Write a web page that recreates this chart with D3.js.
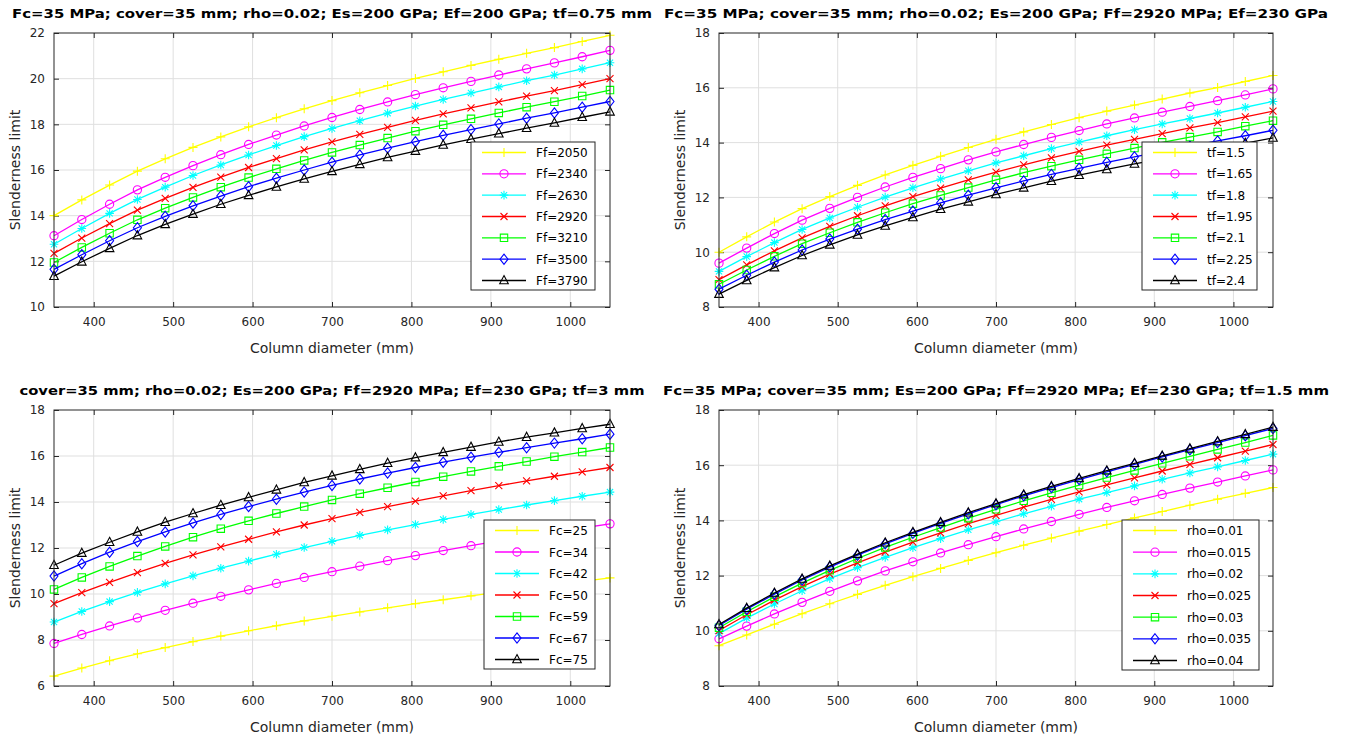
<!DOCTYPE html>
<html><head><meta charset="utf-8">
<script src="https://cdn.jsdelivr.net/npm/d3@7"></script>
<style>
body{margin:0;background:#fff}
svg{display:block}
text{font-family:"DejaVu Sans",sans-serif}
</style>
</head><body>
<svg id="chart" width="1345" height="739"></svg>
<script>
// ---- shared x categories ----
const diameters = [350,385,420,455,490,525,560,595,630,665,700,735,770,805,840,875,910,945,980,1015,1050];
const xTickValues = [400,500,600,700,800,900,1000];

// ---- Panel 1: Ff variation ----
const p1Labels = ["Ff=2050","Ff=2340","Ff=2630","Ff=2920","Ff=3210","Ff=3500","Ff=3790"];
const p1_Ff2050 = [14.00,14.69,15.34,15.95,16.49,16.99,17.45,17.89,18.29,18.68,19.04,19.38,19.70,20.01,20.30,20.58,20.85,21.11,21.36,21.63,21.90];
const p1_Ff2340 = [13.12,13.83,14.50,15.13,15.68,16.19,16.67,17.12,17.53,17.93,18.30,18.65,18.98,19.30,19.60,19.88,20.16,20.43,20.69,20.96,21.24];
const p1_Ff2630 = [12.75,13.44,14.10,14.71,15.25,15.76,16.22,16.66,17.07,17.46,17.82,18.16,18.49,18.80,19.09,19.37,19.64,19.91,20.16,20.43,20.70];
const p1_Ff2920 = [12.35,13.02,13.65,14.24,14.76,15.24,15.69,16.11,16.50,16.88,17.23,17.56,17.87,18.17,18.46,18.72,18.98,19.24,19.48,19.74,20.00];
const p1_Ff3210 = [11.95,12.61,13.23,13.82,14.33,14.80,15.25,15.67,16.05,16.42,16.77,17.09,17.40,17.70,17.98,18.24,18.50,18.75,18.99,19.24,19.50];
const p1_Ff3500 = [11.65,12.29,12.90,13.47,13.97,14.43,14.86,15.27,15.64,16.00,16.34,16.66,16.96,17.24,17.52,17.77,18.02,18.27,18.50,18.75,19.00];
const p1_Ff3790 = [11.35,11.98,12.57,13.13,13.62,14.07,14.50,14.89,15.26,15.61,15.94,16.25,16.55,16.83,17.10,17.35,17.59,17.83,18.06,18.31,18.55];
const p1YTicks = [10,12,14,16,18,20,22];

// ---- Panel 2: tf variation ----
const p2Labels = ["tf=1.5","tf=1.65","tf=1.8","tf=1.95","tf=2.1","tf=2.25","tf=2.4"];
const p2_tf150 = [10.00,10.56,11.10,11.59,12.03,12.44,12.82,13.17,13.50,13.82,14.12,14.39,14.66,14.91,15.15,15.37,15.59,15.81,16.01,16.23,16.45];
const p2_tf165 = [9.60,10.15,10.68,11.17,11.60,12.00,12.38,12.73,13.05,13.37,13.66,13.93,14.19,14.44,14.68,14.90,15.11,15.32,15.53,15.74,15.96];
const p2_tf180 = [9.30,9.84,10.35,10.83,11.25,11.64,12.01,12.35,12.67,12.97,13.26,13.52,13.78,14.02,14.25,14.47,14.68,14.88,15.08,15.29,15.50];
const p2_tf195 = [9.00,9.54,10.05,10.52,10.94,11.33,11.69,12.03,12.34,12.64,12.92,13.19,13.44,13.68,13.91,14.12,14.33,14.54,14.73,14.94,15.15];
const p2_tf210 = [8.83,9.35,9.85,10.31,10.71,11.09,11.44,11.77,12.07,12.36,12.64,12.90,13.14,13.37,13.59,13.80,14.01,14.20,14.39,14.60,14.80];
const p2_tf225 = [8.65,9.16,9.64,10.08,10.48,10.84,11.19,11.50,11.80,12.08,12.35,12.60,12.84,13.06,13.28,13.48,13.68,13.87,14.06,14.25,14.45];
const p2_tf240 = [8.47,8.97,9.44,9.88,10.27,10.63,10.96,11.27,11.57,11.84,12.11,12.35,12.59,12.81,13.02,13.22,13.41,13.60,13.78,13.98,14.17];
const p2YTicks = [8,10,12,14,16,18];

// ---- Panel 3: Fc variation ----
const p3Labels = ["Fc=25","Fc=34","Fc=42","Fc=50","Fc=59","Fc=67","Fc=75"];
const p3_Fc25 = [6.43,6.78,7.10,7.40,7.67,7.93,8.17,8.40,8.62,8.83,9.03,9.22,9.40,9.58,9.75,9.92,10.08,10.24,10.40,10.55,10.70];
const p3_Fc34 = [7.85,8.24,8.61,8.96,9.29,9.60,9.90,10.18,10.46,10.72,10.97,11.21,11.45,11.67,11.89,12.10,12.31,12.50,12.69,12.87,13.05];
const p3_Fc42 = [8.78,9.24,9.67,10.07,10.44,10.79,11.12,11.43,11.73,12.02,12.29,12.55,12.79,13.02,13.24,13.46,13.67,13.87,14.06,14.25,14.43];
const p3_Fc50 = [9.58,10.06,10.51,10.93,11.33,11.70,12.05,12.38,12.70,13.00,13.28,13.55,13.80,14.04,14.27,14.49,14.71,14.92,15.12,15.31,15.50];
const p3_Fc59 = [10.20,10.72,11.20,11.65,12.07,12.47,12.84,13.18,13.50,13.80,14.09,14.36,14.62,14.87,15.10,15.33,15.55,15.76,15.97,16.17,16.37];
const p3_Fc67 = [10.78,11.32,11.82,12.28,12.70,13.09,13.46,13.80,14.12,14.43,14.72,15.00,15.26,15.50,15.73,15.95,16.16,16.36,16.56,16.75,16.95];
const p3_Fc75 = [11.25,11.78,12.25,12.70,13.12,13.50,13.86,14.20,14.53,14.85,15.14,15.42,15.69,15.93,16.16,16.39,16.61,16.82,17.01,17.20,17.38];
const p3YTicks = [6,8,10,12,14,16,18];

// ---- Panel 4: rho variation ----
const p4Labels = ["rho=0.01","rho=0.015","rho=0.02","rho=0.025","rho=0.03","rho=0.035","rho=0.04"];
const p4_rho010 = [9.46,9.85,10.24,10.62,10.98,11.32,11.65,11.96,12.26,12.55,12.83,13.10,13.36,13.61,13.85,14.09,14.32,14.55,14.77,14.98,15.19];
const p4_rho015 = [9.71,10.17,10.61,11.03,11.43,11.81,12.17,12.50,12.82,13.12,13.41,13.69,13.96,14.22,14.47,14.71,14.94,15.17,15.39,15.61,15.83];
const p4_rho020 = [9.90,10.46,10.97,11.45,11.89,12.29,12.66,13.01,13.34,13.66,13.95,14.24,14.51,14.77,15.01,15.25,15.49,15.72,15.94,16.17,16.40];
const p4_rho025 = [10.01,10.58,11.11,11.60,12.05,12.46,12.85,13.21,13.55,13.88,14.18,14.48,14.76,15.03,15.29,15.54,15.79,16.03,16.27,16.51,16.75];
const p4_rho030 = [10.11,10.69,11.23,11.73,12.19,12.62,13.02,13.39,13.74,14.08,14.40,14.71,15.00,15.28,15.55,15.81,16.07,16.32,16.57,16.82,17.08];
const p4_rho035 = [10.19,10.78,11.33,11.84,12.31,12.74,13.15,13.53,13.89,14.24,14.57,14.89,15.19,15.48,15.76,16.03,16.30,16.56,16.82,17.07,17.33];
const p4_rho040 = [10.23,10.82,11.37,11.88,12.35,12.78,13.19,13.57,13.93,14.28,14.61,14.93,15.23,15.52,15.80,16.07,16.34,16.60,16.86,17.12,17.38];
const p4YTicks = [8,10,12,14,16,18];

const titles = [
  "Fc=35 MPa; cover=35 mm; rho=0.02; Es=200 GPa; Ef=200 GPa; tf=0.75 mm",
  "Fc=35 MPa; cover=35 mm; rho=0.02; Es=200 GPa; Ff=2920 MPa; Ef=230 GPa",
  "cover=35 mm; rho=0.02; Es=200 GPa; Ff=2920 MPa; Ef=230 GPa; tf=3 mm",
  "Fc=35 MPa; cover=35 mm; Es=200 GPa; Ff=2920 MPa; Ef=230 GPa; tf=1.5 mm"
];
const xLabel = "Column diameter (mm)";
const yLabel = "Slenderness limit";

// ---- styles ----
const colors = ["#ffff00","#ff00ff","#00ffff","#ff0000","#00ff00","#0000ff","#000000"];
const markers = ["+","o","*","x","s","d","^"];

const panels = [
  {series:[p1_Ff2050,p1_Ff2340,p1_Ff2630,p1_Ff2920,p1_Ff3210,p1_Ff3500,p1_Ff3790], labels:p1Labels, yTicks:p1YTicks,
   box:{l:54,r:610,t:33,b:307}, legend:{x:471,y:142,w:124,h:148}, titleW:640, title:titles[0]},
  {series:[p2_tf150,p2_tf165,p2_tf180,p2_tf195,p2_tf210,p2_tf225,p2_tf240], labels:p2Labels, yTicks:p2YTicks,
   box:{l:719,r:1273,t:33,b:307}, legend:{x:1142,y:142,w:115,h:148}, titleW:664, title:titles[1]},
  {series:[p3_Fc25,p3_Fc34,p3_Fc42,p3_Fc50,p3_Fc59,p3_Fc67,p3_Fc75], labels:p3Labels, yTicks:p3YTicks,
   box:{l:54,r:610,t:410,b:686}, legend:{x:484,y:520,w:111,h:149}, titleW:625, title:titles[2]},
  {series:[p4_rho010,p4_rho015,p4_rho020,p4_rho025,p4_rho030,p4_rho035,p4_rho040], labels:p4Labels, yTicks:p4YTicks,
   box:{l:719,r:1273,t:410,b:686}, legend:{x:1122,y:520,w:137,h:150}, titleW:666, title:titles[3]}
];

const svg = d3.select("#chart");
const axisColor = "#262626";

function drawMarker(g, type, color){
  const sw = 1.1;
  if(type==="o"){ g.append("circle").attr("r",4.1).attr("fill","none").attr("stroke",color).attr("stroke-width",sw); return; }
  let d;
  if(type==="+") d="M-4.5,0H4.5M0,-4.5V4.5";
  else if(type==="x") d="M-3.5,-3.5L3.5,3.5M-3.5,3.5L3.5,-3.5";
  else if(type==="*") d="M-4.3,0H4.3M0,-4.3V4.3M-3.1,-3.1L3.1,3.1M-3.1,3.1L3.1,-3.1";
  else if(type==="s") d="M-3.7,-3.7H3.7V3.7H-3.7Z";
  else if(type==="d") d="M0,-5.1L4,0L0,5.1L-4,0Z";
  else if(type==="^") d="M0,-4.9L4.3,3.3L-4.3,3.3Z";
  g.append("path").attr("d",d).attr("fill","none").attr("stroke",color).attr("stroke-width",sw);
}

panels.forEach(p=>{
  const b = p.box;
  const x = d3.scaleLinear().domain([350,1050]).range([b.l,b.r]);
  const yd = d3.extent(p.yTicks);
  const y = d3.scaleLinear().domain(yd).range([b.b,b.t]);
  const g = svg.append("g");

  g.append("rect").attr("x",b.l).attr("y",b.t).attr("width",b.r-b.l).attr("height",b.b-b.t).attr("fill","#fff");

  // grid
  g.selectAll(".gx").data(xTickValues).join("line")
    .attr("x1",d=>x(d)).attr("x2",d=>x(d)).attr("y1",b.t).attr("y2",b.b)
    .attr("stroke","#dfdfdf").attr("stroke-width",1);
  g.selectAll(".gy").data(p.yTicks.filter(t=>t>yd[0]&&t<yd[1])).join("line")
    .attr("x1",b.l).attr("x2",b.r).attr("y1",d=>y(d)).attr("y2",d=>y(d))
    .attr("stroke","#dfdfdf").attr("stroke-width",1);

  // axes (inward ticks on all four sides)
  const axB = d3.axisBottom(x).tickValues(xTickValues).tickSize(-5).tickPadding(10).tickFormat(d3.format("d"));
  const axT = d3.axisTop(x).tickValues(xTickValues).tickSize(-5).tickFormat("");
  const axL = d3.axisLeft(y).tickValues(p.yTicks).tickSize(-5).tickPadding(9).tickFormat(d3.format("d"));
  const axR = d3.axisRight(y).tickValues(p.yTicks).tickSize(-5).tickFormat("");
  const styleAxis = sel=>{
    sel.selectAll(".tick line").attr("stroke",axisColor);
    sel.selectAll(".tick text").attr("fill",axisColor).style("font-size","12px").style("font-family","DejaVu Sans, sans-serif");
  };
  g.append("g").attr("transform",`translate(0,${b.b})`).call(axB).call(styleAxis);
  g.append("g").attr("transform",`translate(0,${b.t})`).call(axT).call(styleAxis);
  g.append("g").attr("transform",`translate(${b.l},0)`).call(axL).call(styleAxis);
  g.append("g").attr("transform",`translate(${b.r},0)`).call(axR).call(styleAxis);
  g.selectAll(".domain").remove();

  // series
  const line = d3.line().x((d,i)=>x(diameters[i])).y(d=>y(d));
  p.series.forEach((s,k)=>{
    const sg = g.append("g");
    sg.append("path").datum(s).attr("d",line).attr("fill","none")
      .attr("stroke",colors[k]).attr("stroke-width",1.3);
    s.forEach((v,i)=>{
      const mg = sg.append("g").attr("transform",`translate(${x(diameters[i])},${y(v)})`);
      drawMarker(mg, markers[k], colors[k]);
    });
  });

  // frame
  g.append("rect").attr("x",b.l).attr("y",b.t).attr("width",b.r-b.l).attr("height",b.b-b.t)
    .attr("fill","none").attr("stroke",axisColor).attr("stroke-width",1);

  // legend
  const L = p.legend;
  const lg = g.append("g");
  lg.append("rect").attr("x",L.x).attr("y",L.y).attr("width",L.w).attr("height",L.h)
    .attr("fill","#fff").attr("stroke",axisColor).attr("stroke-width",1);
  const rowH = (L.h-20)/6;
  p.labels.forEach((lab,k)=>{
    const cy = L.y + 10 + k*rowH + 0.5;
    lg.append("line").attr("x1",L.x+11).attr("x2",L.x+55).attr("y1",cy).attr("y2",cy)
      .attr("stroke",colors[k]).attr("stroke-width",1.3);
    const mg = lg.append("g").attr("transform",`translate(${L.x+33},${cy})`);
    drawMarker(mg, markers[k], colors[k]);
    lg.append("text").attr("x",L.x+65).attr("y",cy+4.5).attr("fill","#000")
      .style("font-size","12px").text(lab);
  });

  // title
  g.append("text").attr("x",(b.l+b.r)/2).attr("y",b.t-15).attr("text-anchor","middle")
    .attr("fill","#000").style("font-size","13px").style("font-weight","bold")
    .attr("textLength",p.titleW).attr("lengthAdjust","spacingAndGlyphs").text(p.title);

  // x label
  g.append("text").attr("x",(b.l+b.r)/2).attr("y",b.b+46).attr("text-anchor","middle")
    .attr("fill",axisColor).style("font-size","14px").text(xLabel);

  // y label
  g.append("text").attr("transform",`translate(${b.l-34},${(b.t+b.b)/2}) rotate(-90)`)
    .attr("text-anchor","middle").attr("fill",axisColor).style("font-size","14px").text(yLabel);
});
</script>
</body></html>
